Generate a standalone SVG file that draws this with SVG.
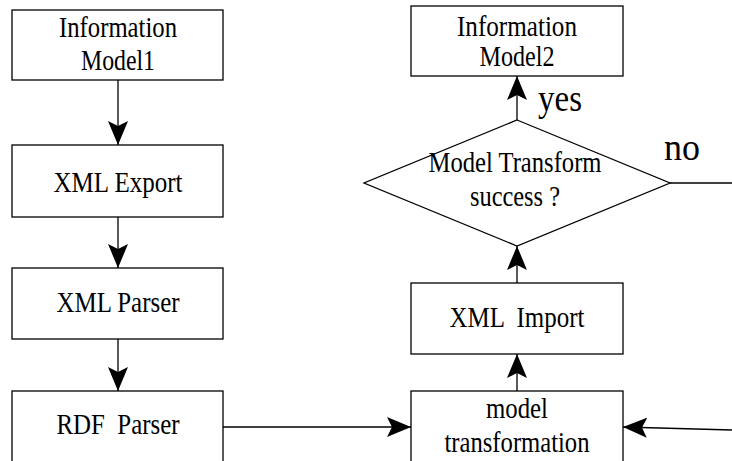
<svg xmlns="http://www.w3.org/2000/svg" width="732" height="461" viewBox="0 0 732 461">
<style>
.box{fill:#fff;stroke:#000;stroke-width:1.3}
.t{font-family:"Liberation Serif","Times New Roman",serif;font-size:30px;fill:#000;text-anchor:middle}
.lbl{font-family:"Liberation Serif","Times New Roman",serif;font-size:37px;fill:#000}
.c{fill:none;stroke:#000;stroke-width:1.3}
</style>
<defs>
<marker id="ah" viewBox="0 0 24 20" refX="24" refY="10" markerWidth="24" markerHeight="20" markerUnits="userSpaceOnUse" orient="auto">
<path d="M24,10 L0,0 L5,10 L0,20 Z" fill="#000"/>
</marker>
</defs>
<rect width="732" height="461" fill="#fff"/>
<g id="connectors">
<line class="c" x1="118" y1="80" x2="118" y2="145" marker-end="url(#ah)"/>
<line class="c" x1="118" y1="217" x2="118" y2="268" marker-end="url(#ah)"/>
<line class="c" x1="118" y1="339" x2="118" y2="391" marker-end="url(#ah)"/>
<line class="c" x1="223" y1="427" x2="411" y2="427" marker-end="url(#ah)"/>
<line class="c" x1="732" y1="430" x2="623" y2="427" marker-end="url(#ah)"/>
<line class="c" x1="517" y1="391" x2="517" y2="354" marker-end="url(#ah)"/>
<line class="c" x1="517" y1="283" x2="517" y2="246" marker-end="url(#ah)"/>
<line class="c" x1="517" y1="120" x2="517" y2="76" marker-end="url(#ah)"/>
<line class="c" x1="670" y1="183" x2="732" y2="183"/>
<text class="lbl" x="538" y="111" textLength="44" lengthAdjust="spacingAndGlyphs">yes</text>
<text class="lbl" x="664" y="160" textLength="36" lengthAdjust="spacingAndGlyphs">no</text>
</g>
<g id="info1">
<rect class="box" x="12" y="10" width="211" height="70"/>
<text class="t" x="118" y="37" textLength="118" lengthAdjust="spacingAndGlyphs">Information</text>
<text class="t" x="118" y="70" textLength="74" lengthAdjust="spacingAndGlyphs">Model1</text>
</g>
<g id="xmlexport">
<rect class="box" x="12" y="145" width="211" height="72"/>
<text class="t" x="118" y="192" textLength="129" lengthAdjust="spacingAndGlyphs">XML Export</text>
</g>
<g id="xmlparser">
<rect class="box" x="12" y="268" width="211" height="71"/>
<text class="t" x="118" y="312" textLength="123" lengthAdjust="spacingAndGlyphs">XML Parser</text>
</g>
<g id="rdfparser">
<rect class="box" x="12" y="391" width="211" height="80"/>
<text class="t" x="118" y="434" textLength="123" lengthAdjust="spacingAndGlyphs" xml:space="preserve">RDF  Parser</text>
</g>
<g id="info2">
<rect class="box" x="411" y="6" width="212" height="70"/>
<text class="t" x="517" y="36" textLength="120" lengthAdjust="spacingAndGlyphs">Information</text>
<text class="t" x="517" y="66" textLength="75" lengthAdjust="spacingAndGlyphs">Model2</text>
</g>
<g id="decision">
<polygon class="box" points="517,120 670,183 517,246 364,183"/>
<text class="t" x="515" y="172" textLength="173" lengthAdjust="spacingAndGlyphs">Model Transform</text>
<text class="t" x="515" y="206" textLength="90" lengthAdjust="spacingAndGlyphs">success ?</text>
</g>
<g id="xmlimport">
<rect class="box" x="411" y="283" width="212" height="71"/>
<text class="t" x="517" y="327" textLength="135" lengthAdjust="spacingAndGlyphs" xml:space="preserve">XML  Import</text>
</g>
<g id="modeltrans">
<rect class="box" x="411" y="391" width="212" height="80"/>
<text class="t" x="517" y="418" textLength="62" lengthAdjust="spacingAndGlyphs">model</text>
<text class="t" x="517" y="452" textLength="145" lengthAdjust="spacingAndGlyphs">transformation</text>
</g>
</svg>
